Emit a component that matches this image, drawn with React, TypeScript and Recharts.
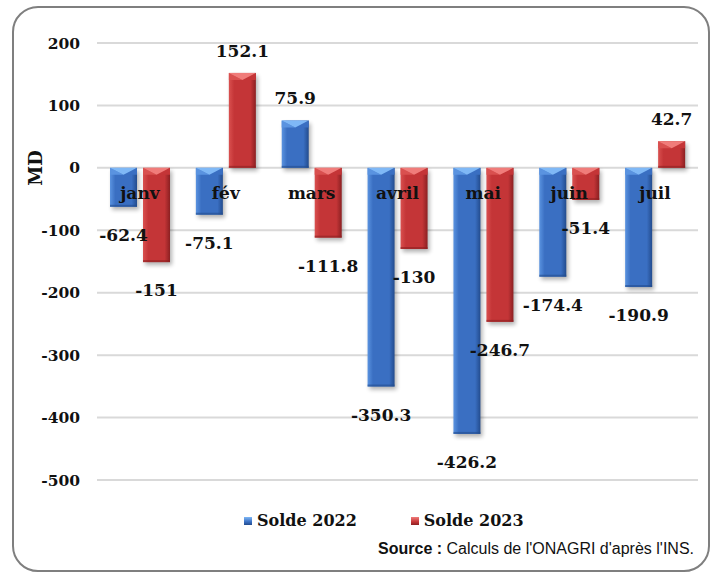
import React from 'react'
import {
  BarChart, Bar, XAxis, YAxis, CartesianGrid, LabelList, Legend, ReferenceDot,
} from 'recharts'

const months = ['janv', 'fév', 'mars', 'avril', 'mai', 'juin', 'juil']
const solde2022 = [-62.4, -75.1, 75.9, -350.3, -426.2, -174.4, -190.9]
const solde2023 = [-151, 152.1, -111.8, -130, -246.7, -51.4, 42.7]
const yTicks = [200, 100, 0, -100, -200, -300, -400, -500]
const seriesNames = ['Solde 2022', 'Solde 2023']

const data = months.map((m, i) => ({ month: m, s2022: solde2022[i], s2023: solde2023[i] }))

const SERIF = '"DejaVu Serif", serif'

const tones: Record<string, { main: string; light: string; hi: string; dark: string }> = {
  blue: { main: '#3a6fc2', light: '#5a93e0', hi: '#7fb8f6', dark: '#234c8e' },
  red: { main: '#c43537', light: '#d9504f', hi: '#f07c7a', dark: '#8c2022' },
}

const Defs = () => (
  <svg width={0} height={0} style={{ position: 'absolute' }}>
    <defs>
      {Object.keys(tones).map((k) => (
        <linearGradient key={k} id={`body-${k}`} x1="0" y1="0" x2="1" y2="0">
          <stop offset="0" stopColor={tones[k].light} />
          <stop offset="0.2" stopColor={tones[k].main} />
          <stop offset="0.8" stopColor={tones[k].main} />
          <stop offset="1" stopColor={tones[k].dark} />
        </linearGradient>
      ))}
      <filter id="barShadow" x="-30%" y="-30%" width="160%" height="160%">
        <feGaussianBlur stdDeviation="2" />
      </filter>
    </defs>
  </svg>
)

const Bar3D = (props: any) => {
  const { x, y, width, height, tone } = props
  const h = Math.abs(height)
  if (!h) return null
  const top = Math.min(y, y + height)
  const c = tones[tone]
  const bev = Math.min(7, h / 2)
  const mid = x + width / 2
  return (
    <g>
      <rect x={x + 2} y={top + 3} width={width} height={h} fill="#000" opacity={0.3} filter="url(#barShadow)" />
      <rect x={x} y={top} width={width} height={h} fill={`url(#body-${tone})`} />
      <polygon points={`${x},${top} ${mid},${top + bev} ${x},${top + bev}`} fill={c.light} />
      <polygon points={`${x + width},${top} ${mid},${top + bev} ${x + width},${top + bev}`} fill={c.main} />
      <polygon points={`${x},${top} ${x + width},${top} ${mid},${top + bev}`} fill={c.hi} />
      <rect x={x} y={top + h - 2} width={width} height={2} fill={c.dark} opacity={0.6} />
    </g>
  )
}

const ValueLabel = (props: any) => {
  const { x, y, width, height, value } = props
  const top = Math.min(y, y + height)
  const bottom = Math.max(y, y + height)
  const cy = value >= 0 ? top - 22 : bottom + 28
  return (
    <text
      x={x + width / 2}
      y={cy}
      textAnchor="middle"
      dominantBaseline="central"
      fontFamily={SERIF}
      fontWeight={700}
      fontSize={17}
      fill="#111"
    >
      {value}
    </text>
  )
}

const MonthLabel = (props: any) => (
  <text
    x={props.cx}
    y={props.cy + 25}
    textAnchor="middle"
    dominantBaseline="central"
    fontFamily={SERIF}
    fontWeight={700}
    fontSize={17}
    fill="#111"
  >
    {props.label}
  </text>
)

const LegendContent = () => (
  <div style={{ display: 'flex', alignItems: 'center', fontFamily: SERIF, fontWeight: 700, fontSize: 16, color: '#111' }}>
    {seriesNames.map((n, i) => {
      const t = tones[i === 0 ? 'blue' : 'red']
      return (
        <div key={n} style={{ display: 'flex', alignItems: 'center', marginRight: i === 0 ? 54 : 0 }}>
          <span
            style={{
              display: 'inline-block', width: 8, height: 8, marginRight: 5,
              background: `linear-gradient(180deg, ${t.hi}, ${t.main} 60%, ${t.dark})`,
            }}
          />
          <span>{n}</span>
        </div>
      )
    })}
  </div>
)

export default function App() {
  return (
    <div style={{ position: 'absolute', left: 0, top: 0, width: 716, height: 574, background: '#fff', overflow: 'hidden' }}>
      <Defs />
      <div
        style={{
          position: 'absolute', left: 12, top: 6, width: 694, height: 562,
          border: '2px solid #7f7f7f', borderRadius: 26,
        }}
      />
      <div
        style={{
          position: 'absolute', left: 35, top: 168, transform: 'translate(-50%, -50%) rotate(-90deg)',
          fontFamily: SERIF, fontWeight: 700, fontSize: 18, color: '#111', whiteSpace: 'nowrap',
        }}
      >
        MD
      </div>
      <div style={{ position: 'absolute', left: 0, top: 0 }}>
        <BarChart
          width={716}
          height={574}
          data={data}
          margin={{ top: 43, right: 18, bottom: 94, left: 37 }}
          barSize={27}
          barGap={6}
        >
          <CartesianGrid vertical={false} stroke="#d9d9d9" strokeWidth={2} />
          <XAxis dataKey="month" hide />
          <YAxis
            domain={[-500, 200]}
            ticks={yTicks}
            interval={0}
            axisLine={false}
            tickLine={false}
            tickSize={0}
            tickMargin={17}
            width={60}
            tick={{ fontFamily: SERIF, fontWeight: 700, fontSize: 15.5, fill: '#111' }}
          />
          <Legend
            verticalAlign="middle"
            align="center"
            content={<LegendContent />}
            wrapperStyle={{ top: 511, left: 244, width: 'auto' }}
          />
          <Bar dataKey="s2022" name={seriesNames[0]} isAnimationActive={false} shape={(p: any) => <Bar3D {...p} tone="blue" />}>
            <LabelList dataKey="s2022" content={ValueLabel} />
          </Bar>
          <Bar dataKey="s2023" name={seriesNames[1]} isAnimationActive={false} shape={(p: any) => <Bar3D {...p} tone="red" />}>
            <LabelList dataKey="s2023" content={ValueLabel} />
          </Bar>
          {months.map((m) => (
            <ReferenceDot key={m} x={m} y={0} r={0} shape={(p: any) => <MonthLabel {...p} label={m} />} />
          ))}
        </BarChart>
      </div>
      <div
        style={{
          position: 'absolute', right: 716 - 694, top: 540, fontFamily: '"Liberation Sans", Arial, sans-serif',
          fontSize: 16, color: '#111', whiteSpace: 'nowrap',
        }}
      >
        <b>Source :</b> Calculs de l'ONAGRI d'après l'INS.
      </div>
    </div>
  )
}
